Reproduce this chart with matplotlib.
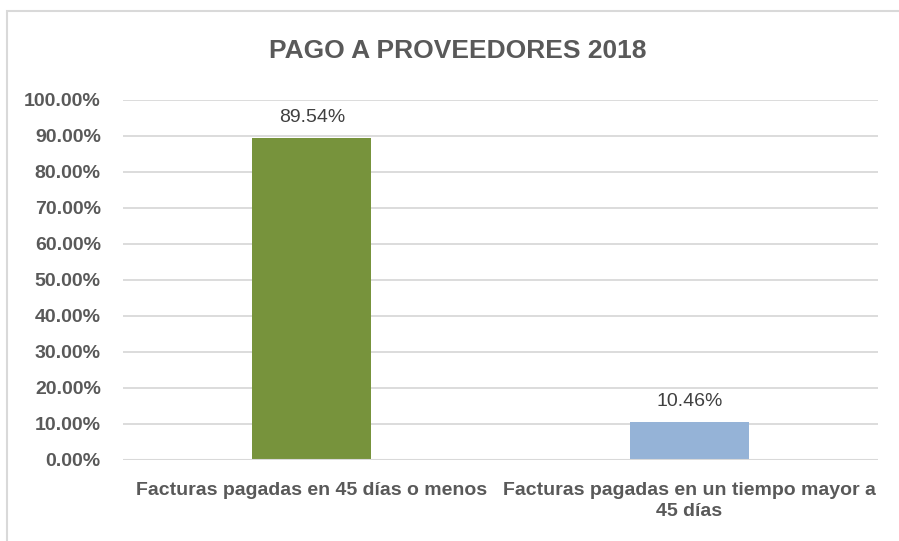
import matplotlib
matplotlib.use("Agg")
import matplotlib.pyplot as plt
from matplotlib.patches import Rectangle
from matplotlib.ticker import FuncFormatter

# data
categories = ["Facturas pagadas en 45 días o menos",
              "Facturas pagadas en un tiempo mayor a\n45 días"]
values = [89.54, 10.46]
labels = ["89.54%", "10.46%"]
colors = ["#77933C", "#95B3D7"]

plt.rcParams["font.family"] = ["Liberation Sans", "DejaVu Sans"]

TXT = "#595959"

fig = plt.figure(figsize=(8.99, 5.41), dpi=100)
fig.patches.append(Rectangle((7 / 899, -0.1), 1.2, (541 - 11) / 541 + 0.1,
                             transform=fig.transFigure, fill=False,
                             edgecolor="#D9D9D9", linewidth=1.5))

ax = fig.add_axes([123 / 899, 1 - 460 / 541, (878 - 123) / 899, 360 / 541])
x = range(len(categories))
ax.bar(x, values, width=0.315, color=colors, zorder=3)
for xi, v, lab in zip(x, values, labels):
    ax.text(xi, v + 3.3, lab, ha="center", va="bottom", fontsize=14, color="#404040")

ax.set_xlim(-0.5, 1.5)
ax.set_ylim(0, 100)
ax.set_yticks(range(0, 101, 10))
ax.yaxis.set_major_formatter(FuncFormatter(lambda v, p: f"{v:.2f}%"))
ax.set_xticks(list(x))
ax.set_xticklabels(categories, fontsize=14, fontweight="bold", color=TXT, linespacing=1.3)
for t in ax.get_yticklabels():
    t.set_fontsize(14)
    t.set_fontweight("bold")
    t.set_color(TXT)
ax.tick_params(length=0)
ax.tick_params(axis="x", pad=16)
ax.tick_params(axis="y", pad=16)
ax.grid(axis="y", color="#D9D9D9", linewidth=1.3, zorder=0)
for s in ax.spines.values():
    s.set_visible(False)
ax.axhline(0, color="#D9D9D9", linewidth=1.5, zorder=4)

fig.text(458 / 899, 1 - 51 / 541, "PAGO A PROVEEDORES 2018", ha="center", va="center",
         fontsize=19, fontweight="bold", color=TXT)

fig.savefig("out.png", dpi=100)
